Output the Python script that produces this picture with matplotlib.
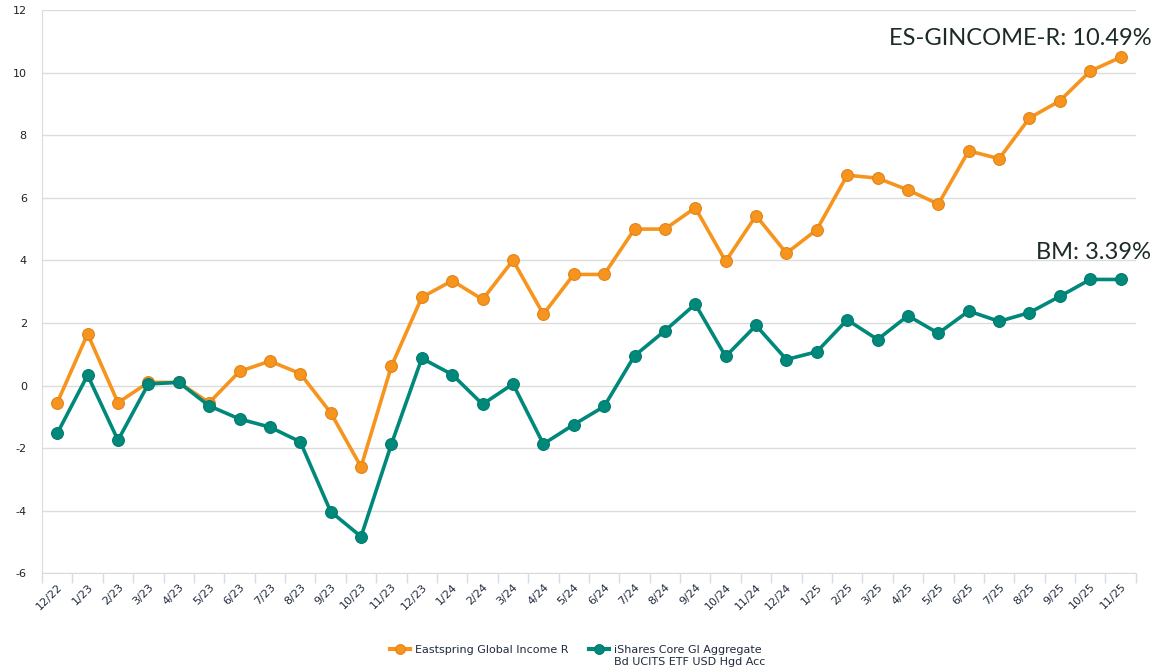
import numpy as np
import matplotlib
matplotlib.use("Agg")
import matplotlib.pyplot as plt
from matplotlib.legend_handler import HandlerLine2D

plt.rcParams["axes.unicode_minus"] = False

# data (cumulative return, %)
meses = [
    "12/22", "1/23", "2/23", "3/23", "4/23", "5/23", "6/23", "7/23", "8/23", "9/23",
    "10/23", "11/23", "12/23", "1/24", "2/24", "3/24", "4/24", "5/24", "6/24", "7/24",
    "8/24", "9/24", "10/24", "11/24", "12/24", "1/25", "2/25", "3/25", "4/25", "5/25",
    "6/25", "7/25", "8/25", "9/25", "10/25", "11/25",
]
eastspring = [
    -0.55, 1.65, -0.55, 0.10, 0.10, -0.55, 0.45, 0.78, 0.38, -0.87,
    -2.60, 0.62, 2.82, 3.35, 2.75, 4.00, 2.28, 3.55, 3.55, 5.00,
    5.00, 5.68, 3.97, 5.43, 4.23, 4.98, 6.72, 6.63, 6.25, 5.80,
    7.50, 7.25, 8.55, 9.10, 10.05, 10.49,
]
ishares = [
    -1.53, 0.33, -1.75, 0.05, 0.10, -0.65, -1.07, -1.33, -1.80, -4.03,
    -4.83, -1.87, 0.87, 0.35, -0.60, 0.05, -1.87, -1.25, -0.67, 0.95,
    1.75, 2.60, 0.93, 1.92, 0.83, 1.08, 2.10, 1.47, 2.23, 1.67,
    2.38, 2.05, 2.33, 2.85, 3.39, 3.39,
]
nome_fundo = "Eastspring Global Income R"
nome_bm = "iShares Core Gl Aggregate\nBd UCITS ETF USD Hgd Acc"

COR_LARANJA = "#F7941D"
COR_VERDE = "#00897B"
COR_TEXTO = "#1F2A3C"


class HandlerMarcaFim(HandlerLine2D):
    # linha curta com o marcador na ponta direita, como no original
    def get_xdata(self, legend, xdescent, ydescent, width, height, fontsize):
        xdata = [-xdescent, -xdescent + width]
        return xdata, [-xdescent + width * 0.8]


x = np.arange(len(meses))

fig = plt.figure(figsize=(11.55, 6.72), dpi=100)
ax = fig.add_axes([0.0364, 0.147, 0.947, 0.838])

ax.plot(x, eastspring, color=COR_LARANJA, lw=2.6, marker="o", ms=8.5,
        mfc=COR_LARANJA, mec="#E0841A", mew=0.8, label=nome_fundo, zorder=3)
ax.plot(x, ishares, color=COR_VERDE, lw=2.6, marker="o", ms=8.5,
        mfc=COR_VERDE, mec="#007A6E", mew=0.8, label=nome_bm, zorder=3)

ax.set_xlim(-0.5, len(meses) - 0.5)
ax.set_ylim(-6, 12)
ax.set_yticks(range(-6, 13, 2))
ax.set_xticks(x)
ax.set_xticklabels(meses, rotation=45, ha="right", rotation_mode="anchor",
                   fontsize=8, color=COR_TEXTO)
ax.set_xticks(np.arange(-0.5, len(meses)), minor=True)
ax.tick_params(axis="x", which="major", length=0, pad=6)
ax.tick_params(axis="x", which="minor", length=7, color="#D5DCE4", width=1)
ax.tick_params(axis="y", length=0, labelsize=8, labelcolor="#222222", pad=11)

ax.grid(axis="y", color="#DCDCDC", lw=1)
ax.set_axisbelow(True)
for lado in ["top", "right"]:
    ax.spines[lado].set_visible(False)
ax.spines["left"].set_color("#D5DCE4")
ax.spines["bottom"].set_color("#D5DCE4")

ax.annotate(f"ES-GINCOME-R: {eastspring[-1]:.2f}%", xy=(x[-1], eastspring[-1]),
            xytext=(22, 6), textcoords="offset points", ha="right", va="bottom",
            fontsize=17, family="Lato", color="#1C2B28", annotation_clip=False)
ax.annotate(f"BM: {ishares[-1]:.2f}%", xy=(x[-1], ishares[-1]),
            xytext=(22, 12), textcoords="offset points", ha="right", va="bottom",
            fontsize=17, family="Lato", color="#1C2B28", annotation_clip=False)

leg = fig.legend(loc="upper center", bbox_to_anchor=(0.5, 0.055), ncol=2,
                 frameon=False, fontsize=8, handlelength=1.8, handletextpad=0.5,
                 columnspacing=1.8, labelspacing=0.2,
                 handler_map={plt.Line2D: HandlerMarcaFim()})
for h in leg.legend_handles:
    h.set_markersize(7)
    h.set_linewidth(3)
# alinhar o marcador com a primeira linha do texto
leg._legend_handle_box.align = "top"
for coluna in leg._legend_handle_box.get_children():
    for linha in coluna.get_children():
        linha.align = "top"
for t in leg.get_texts():
    t.set_color(COR_TEXTO)

fig.savefig("out.png", dpi=100, facecolor="white")
